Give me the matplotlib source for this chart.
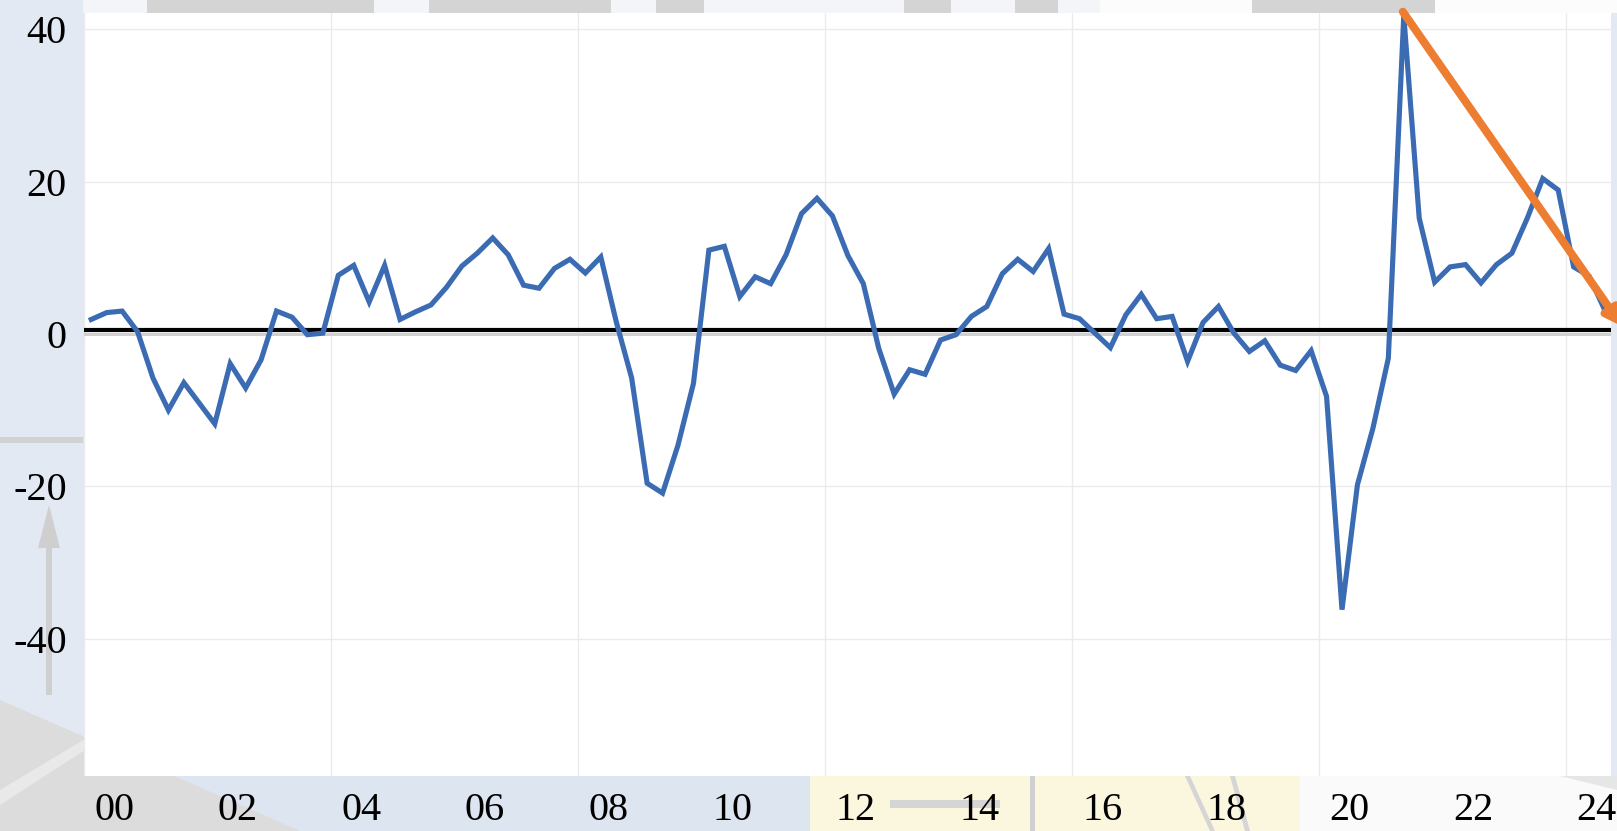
import pandas as pd
import numpy as np
import matplotlib
matplotlib.use("Agg")
import matplotlib.pyplot as plt
from matplotlib.patches import Rectangle, Polygon

# quarterly % change, 2000Q1 .. 2024Q3
values = [
    1.9, 2.8, 3.0, 0.3,  -5.8, -10.0, -6.4, -9.1,  -11.8, -3.9, -7.1, -3.4,
    3.0, 2.2, -0.1, 0.1,  7.7, 9.0, 4.2, 9.0,  1.9, 2.9, 3.8, 6.1,
    8.9, 10.6, 12.6, 10.4,  6.4, 6.0, 8.6, 9.8,  8.0, 10.1, 1.6, -5.8,
    -19.6, -20.9, -14.6, -6.5,  11.0, 11.5, 4.9, 7.5,  6.6, 10.4, 15.8, 17.8,
    15.5, 10.3, 6.6, -1.9,  -7.9, -4.7, -5.3, -0.8,  -0.1, 2.3, 3.6, 7.9,
    9.8, 8.2, 11.2, 2.6,  2.0, 0.1, -1.8, 2.5,  5.2, 2.0, 2.3, -3.6,
    1.5, 3.6, 0.1, -2.3,  -0.9, -4.1, -4.8, -2.2,  -8.2, -36.2, -19.8, -12.4,
    -3.2, 41.8, 15.2, 6.8,  8.8, 9.1, 6.7, 9.1,  10.6, 15.2, 20.4, 18.9,
    8.8, 7.6, 3.2,
]
start_quarter = "2000Q1"
tick_years = list(range(2000, 2025, 2))
tick_labels = [f"{y % 100:02d}" for y in tick_years]
y_ticks = [-40, -20, 0, 20, 40]

# trend arrow: from the 2021 peak down to the right edge
arrow_from = (2021.36, 42.3)
arrow_to = (2024.91, 1.0)

W, H = 1617, 831
plt.rcParams['font.family'] = ['Liberation Serif', 'DejaVu Serif']
plt.rcParams['axes.unicode_minus'] = False

fig = plt.figure(figsize=(W / 100, H / 100), dpi=100)
fig.patch.set_facecolor('#e3e9f2')


def rect(x0, y0, x1, y1, color, z=0):
    # rectangle given in pixel coords (top-left origin)
    fig.add_artist(Rectangle((x0 / W, 1 - y1 / H), (x1 - x0) / W, (y1 - y0) / H,
                             transform=fig.transFigure, color=color, zorder=z, lw=0))


def poly(pts, color, z=0):
    fig.add_artist(Polygon([(x / W, 1 - y / H) for x, y in pts], closed=True,
                           transform=fig.transFigure, color=color, zorder=z, lw=0))


# faded background picture behind the chart
rect(83, 0, W, 13, '#f3f5f9')
rect(1100, 0, W, 13, '#fcfcfc')
for x0, x1 in [(147, 374), (429, 611), (656, 704), (904, 951), (1015, 1058), (1252, 1435)]:
    rect(x0, 0, x1, 13, '#d4d4d4')
rect(0, 776, 810, H, '#dde5f0')
rect(810, 776, 1300, H, '#fbf6de')
rect(1300, 776, W, H, '#fafafa')
poly([(0, 700), (300, 831), (0, 831)], '#dcdcdc')
poly([(0, 790), (150, 700), (150, 708), (0, 805)], '#e9e9e9')
rect(0, 437, 83, 443, '#d2d2d2')
rect(46, 545, 52, 695, '#cfcfcf')
poly([(38, 548), (60, 548), (49, 505)], '#cfcfcf')
rect(890, 800, 1000, 808, '#d5d5d5')
rect(1030, 776, 1035, H, '#d0d0d0')
poly([(1185, 776), (1190, 776), (1215, 831), (1210, 831)], '#d5d5d5')
poly([(1230, 776), (1235, 776), (1250, 831), (1245, 831)], '#d5d5d5')
poly([(1560, 776), (1617, 776), (1617, 790)], '#e6e6e6')

ax = fig.add_axes([83.5 / W, 1 - 775.7 / H, (1611 - 83.5) / W, (775.7 - 12.5) / H])
ax.set_facecolor('white')
ax.set_zorder(2)

periods = pd.period_range(start_quarter, periods=len(values), freq='Q')
x = periods.year + (periods.quarter - 0.5) / 4

ax.set_xlim(2000, 2024.73)
ax.set_ylim(-58, 42.2)

# grid: vertical every 4 years, horizontal every 20
ax.set_xticks(list(range(2000, 2025, 4)), minor=True)
ax.grid(True, which='minor', axis='x', color='#ebebeb', lw=1)
ax.set_yticks(y_ticks)
ax.grid(True, which='major', axis='y', color='#ebebeb', lw=1)
ax.set_axisbelow(True)

ax.set_xticks([y + 0.5 for y in tick_years])
ax.set_xticklabels(tick_labels)
ax.set_yticklabels([str(v) for v in y_ticks])
ax.tick_params(axis='both', which='both', length=0, labelsize=29)
ax.tick_params(axis='x', pad=12)
ax.tick_params(axis='y', pad=12)
for s in ax.spines.values():
    s.set_visible(False)

ax.axhline(0, color='#d0d0d0', lw=2.2, zorder=1)
ax.axhline(0.5, color='black', lw=3, zorder=2)

ax.plot(x, values, color='#3a6bb3', lw=3.7, solid_joinstyle='miter', zorder=3)

ax.annotate('', xy=arrow_to, xytext=arrow_from, annotation_clip=False, zorder=4,
            arrowprops=dict(arrowstyle='-|>,head_length=0.9,head_width=0.5',
                            color='#ed7d31', lw=5.8, shrinkA=0, shrinkB=0))

plt.savefig("out.png", dpi=100, facecolor=fig.get_facecolor())
